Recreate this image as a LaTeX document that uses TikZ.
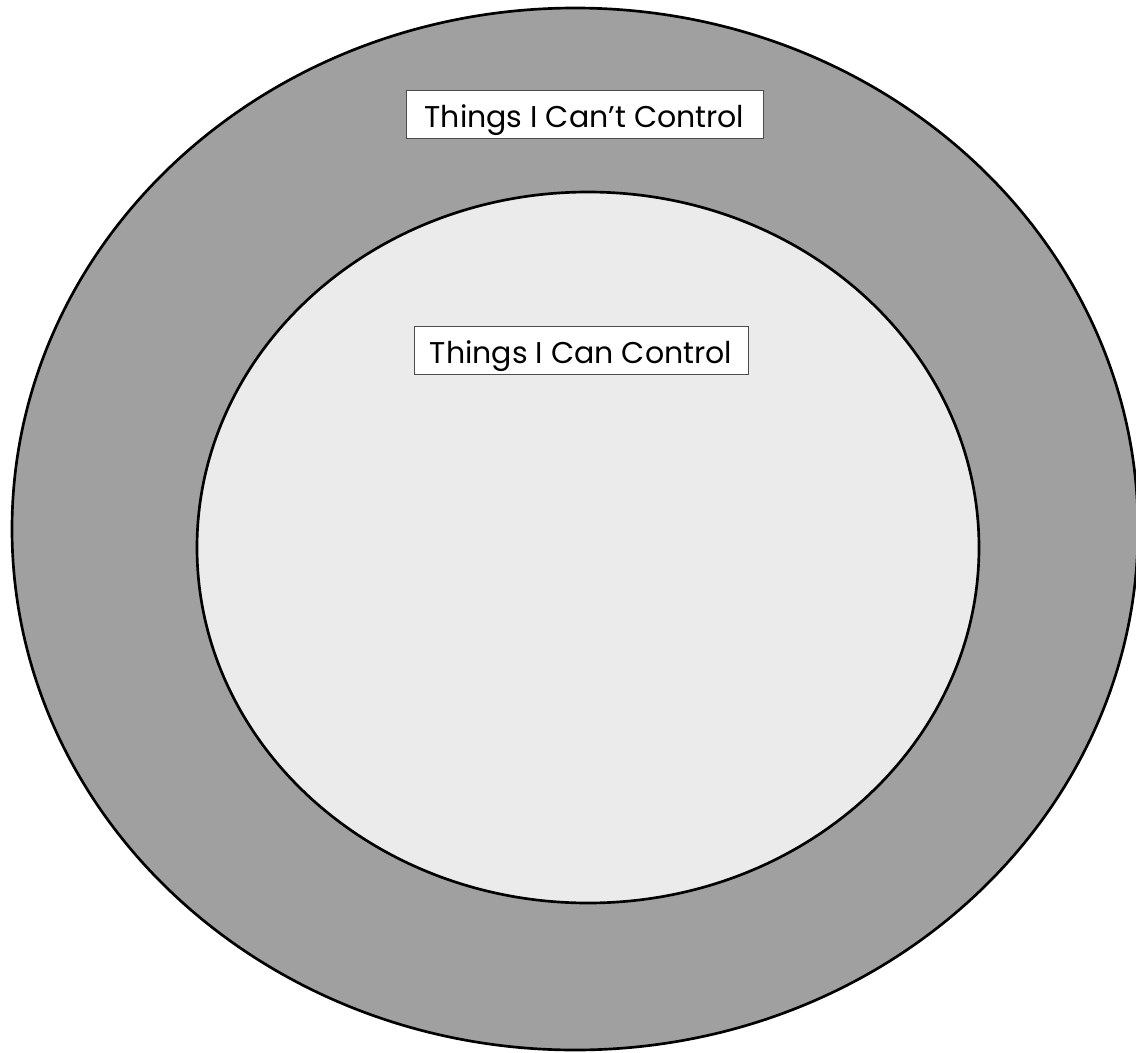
\documentclass[tikz,border=0pt]{standalone}
\usepackage{fontspec}
\usetikzlibrary{shapes.geometric}
\setmainfont{Poppins}
\definecolor{outergray}{HTML}{A0A0A0}
\definecolor{innergray}{HTML}{EBEBEB}
\begin{document}
\begin{tikzpicture}[x=0.75pt,y=-0.75pt,
  ring/.style={draw=black,line width=2pt,ellipse,inner sep=0pt},
  labelbox/.style={draw=black!70,fill=white,line width=0.6pt,inner sep=0pt,
    font=\fontsize{22.5}{26}\selectfont,minimum height=35.5pt,text depth=0pt}]
\useasboundingbox (0,0) rectangle (1136,1053);
\node[ring,fill=outergray,minimum width=844.5pt,minimum height=781.5pt] (outer) at (575,529) {};
\node[ring,fill=innergray,minimum width=586.5pt,minimum height=533.25pt] (inner) at (588,547.5) {};
\node[labelbox,minimum width=267.75pt] (cant) at (584.5,114.5) {\raisebox{-2pt}{Things I Can’t Control}};
\node[labelbox,minimum width=250.5pt] (can) at (581,350.5) {\raisebox{-2pt}{Things I Can Control}};
\end{tikzpicture}
\end{document}
